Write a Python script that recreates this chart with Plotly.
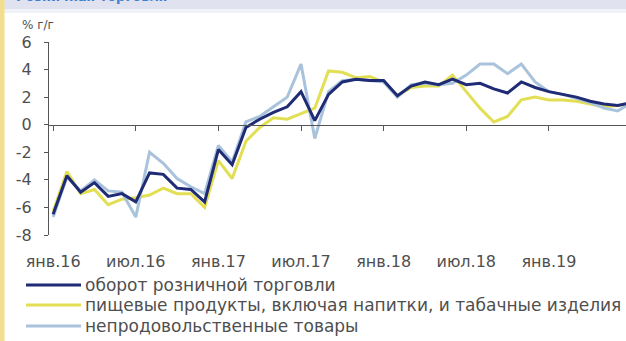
import plotly.graph_objects as go

# Monthly y/y growth, Jan 2016 .. Jul 2019 (month index 0..42)
months = list(range(43))
retail_turnover = [-6.5, -3.7, -4.9, -4.2, -5.2, -5.0, -5.6, -3.5, -3.6, -4.6, -4.7, -5.6,
                   -1.8, -2.9, -0.2, 0.4, 0.9, 1.3, 2.4, 0.3, 2.2, 3.1, 3.3, 3.2,
                   3.2, 2.1, 2.8, 3.1, 2.9, 3.3, 2.9, 3.0, 2.6, 2.3, 3.1, 2.7,
                   2.4, 2.2, 2.0, 1.7, 1.5, 1.4, 1.6]
food = [-6.3, -3.4, -5.0, -4.7, -5.8, -5.4, -5.3, -5.1, -4.6, -5.0, -5.0, -6.0,
        -2.6, -3.9, -1.2, -0.2, 0.5, 0.4, 0.8, 1.2, 3.9, 3.8, 3.4, 3.5,
        3.1, 2.1, 2.7, 2.8, 2.8, 3.6, 2.4, 1.2, 0.2, 0.6, 1.8, 2.0,
        1.8, 1.8, 1.7, 1.5, 1.3, 1.4, 1.5]
non_food = [-6.7, -3.8, -4.8, -4.0, -4.8, -4.9, -6.7, -2.0, -2.8, -3.9, -4.5, -5.0,
            -1.5, -2.7, 0.2, 0.6, 1.3, 2.0, 4.4, -1.0, 2.4, 3.2, 3.3, 3.2,
            3.1, 2.0, 2.9, 3.0, 2.9, 3.0, 3.6, 4.4, 4.4, 3.7, 4.4, 3.1,
            2.4, 2.2, 1.9, 1.6, 1.2, 1.0, 1.6]

tick_months = [0, 6, 12, 18, 24, 30, 36]
tick_labels = ["янв.16", "июл.16", "янв.17", "июл.17", "янв.18", "июл.18", "янв.19"]
y_ticks = [-8, -6, -4, -2, 0, 2, 4, 6]
y_tick_labels = ["-8", "-6", "-4", "-2", "0", "2", "4", "6"]

series_names = ["оборот розничной торговли",
                "пищевые продукты, включая напитки, и табачные изделия",
                "непродовольственные товары"]
series_colors = ["#1f2b74", "#e2df55", "#a9c3dc"]

W, H = 626, 341
L, R, T, B = 49, 626, 42, 235  # plot area in pixels


def px(x):
    return (x - L) / (R - L)


def py(y):
    return (B - y) / (B - T)


FONT = "DejaVu Sans"
TXT = "#4f4f4f"

fig = go.Figure()
series = [retail_turnover, food, non_food]
for idx in [1, 2, 0]:
    fig.add_trace(go.Scatter(x=months, y=series[idx], mode="lines",
                             line=dict(color=series_colors[idx], width=3),
                             name=series_names[idx], showlegend=False,
                             hoverinfo="skip"))
# carrier trace for the zero-line axis
fig.add_trace(go.Scatter(x=[0], y=[0], xaxis="x2", mode="lines",
                         line=dict(width=0), showlegend=False, hoverinfo="skip"))

shapes = [
    # header band and left accent bar
    dict(type="rect", xref="paper", yref="paper", x0=px(0), x1=px(W), y0=py(9), y1=py(-2),
         fillcolor="#e0e2ef", line=dict(width=0), layer="below"),
    dict(type="rect", xref="paper", yref="paper", x0=px(0), x1=px(W), y0=py(13), y1=py(9),
         fillcolor="#f1f2f8", line=dict(width=0), layer="below"),
    dict(type="rect", xref="paper", yref="paper", x0=px(0), x1=px(4.5), y0=py(H + 2), y1=py(-2),
         fillcolor="#f2de8e", line=dict(width=0), layer="below"),
]
annotations = [
    dict(text="<b>Розничная торговля</b>", xref="paper", yref="paper", x=px(14), y=py(6),
         xanchor="left", yanchor="bottom", showarrow=False,
         font=dict(family=FONT, size=13, color="#3b7fcf")),
    dict(text="% г/г", xref="paper", yref="paper", x=px(20), y=py(25),
         xanchor="left", yanchor="middle", showarrow=False,
         font=dict(family=FONT, size=12, color=TXT)),
]

# legend drawn as line samples with labels
legend_rows = [285, 305, 326]
for name, color, row in zip(series_names, series_colors, legend_rows):
    shapes.append(dict(type="line", xref="paper", yref="paper", x0=px(26), x1=px(81),
                       y0=py(row), y1=py(row), line=dict(color=color, width=3)))
    annotations.append(dict(text=name, xref="paper", yref="paper", x=px(83), y=py(row),
                            xanchor="left", yanchor="middle", showarrow=False,
                            font=dict(family=FONT, size=17, color=TXT)))

fig.update_layout(
    width=W, height=H,
    margin=dict(l=L, r=W - R, t=T, b=H - B, pad=0),
    paper_bgcolor="white", plot_bgcolor="white",
    showlegend=False,
    xaxis=dict(range=[-0.3, 41.6], tickvals=tick_months, ticktext=tick_labels,
               showgrid=False, zeroline=False, showline=False, ticks="",
               ticklabelstandoff=15,
               tickfont=dict(family=FONT, size=16, color=TXT)),
    xaxis2=dict(matches="x", overlaying="x", anchor="free", position=8 / 14,
                tickvals=tick_months, showticklabels=False, showgrid=False,
                zeroline=False, showline=True, linecolor="#555", linewidth=1.3,
                ticks="outside", ticklen=5, tickcolor="#555", tickwidth=1.2),
    yaxis=dict(range=[-8, 6], tickvals=y_ticks, ticktext=y_tick_labels,
               showgrid=False, zeroline=False, showline=True, linecolor="#555",
               linewidth=1.3, ticks="outside", ticklen=4, tickcolor="#555",
               ticklabelstandoff=9,
               tickfont=dict(family=FONT, size=16, color=TXT)),
    shapes=shapes, annotations=annotations,
)

fig.write_html("out.html")
